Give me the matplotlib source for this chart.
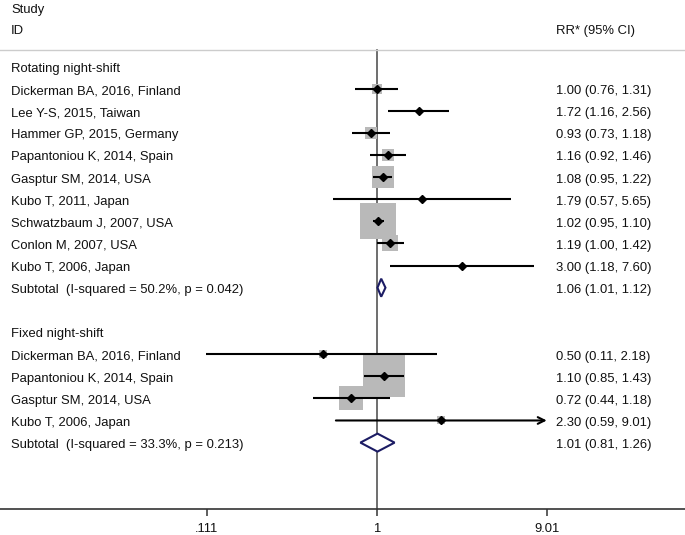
import numpy as np
import matplotlib
matplotlib.use('Agg')
import matplotlib.pyplot as plt
from matplotlib.patches import Polygon
from matplotlib.transforms import blended_transform_factory

plt.rcParams['font.family'] = ['Liberation Sans', 'DejaVu Sans']

# ==========================================
# data
# ==========================================
rot_studies = ['Dickerman BA, 2016, Finland', 'Lee Y-S, 2015, Taiwan', 'Hammer GP, 2015, Germany',
               'Papantoniou K, 2014, Spain', 'Gasptur SM, 2014, USA', 'Kubo T, 2011, Japan',
               'Schwatzbaum J, 2007, USA', 'Conlon M, 2007, USA', 'Kubo T, 2006, Japan']
rot_rr = [1.00, 1.72, 0.93, 1.16, 1.08, 1.79, 1.02, 1.19, 3.00]
rot_lo = [0.76, 1.16, 0.73, 0.92, 0.95, 0.57, 0.95, 1.00, 1.18]
rot_hi = [1.31, 2.56, 1.18, 1.46, 1.22, 5.65, 1.10, 1.42, 7.60]
rot_weight = [2.0, 0.33, 3.2, 3.3, 10.1, 0.25, 27.9, 5.2, 0.25]
rot_sub = (1.06, 1.01, 1.12)
rot_i2, rot_p = 50.2, 0.042

fix_studies = ['Dickerman BA, 2016, Finland', 'Papantoniou K, 2014, Spain',
               'Gasptur SM, 2014, USA', 'Kubo T, 2006, Japan']
fix_rr = [0.50, 1.10, 0.72, 2.30]
fix_lo = [0.11, 0.85, 0.44, 0.59]
fix_hi = [2.18, 1.43, 1.18, 9.01]
fix_weight = [1.3, 36.0, 11.1, 1.3]
fix_sub = (1.01, 0.81, 1.26)
fix_i2, fix_p = 33.3, 0.213

groups = [('Rotating night-shift', rot_studies, rot_rr, rot_lo, rot_hi, rot_weight, rot_sub, rot_i2, rot_p),
          ('Fixed night-shift', fix_studies, fix_rr, fix_lo, fix_hi, fix_weight, fix_sub, fix_i2, fix_p)]

tick_vals = [1 / 9.01, 1, 9.01]
tick_labels = ['.111', '1', '9.01']

# ==========================================
# layout
# ==========================================
W, H = 685, 535
axis_px = 509          # y of the x axis line (px from top)
null_px = 376.7        # x of RR = 1
px_per_dec = 178.1
forest_max = 9.01
fs = 9.4
txt_col = '#111111'

fig = plt.figure(figsize=(W / 100, H / 100), dpi=100)
ax = fig.add_axes([0, (H - axis_px) / H, 1, axis_px / H])
ax.set_xscale('log')
ax.set_xlim(10 ** (-null_px / px_per_dec), 10 ** ((W - null_px) / px_per_dec))
ax.set_ylim(20, -3)

for s in ['top', 'right', 'left']:
    ax.spines[s].set_visible(False)
ax.spines['bottom'].set_color('#333333')
ax.spines['bottom'].set_linewidth(1.2)
ax.set_yticks([])
ax.set_xticks(tick_vals)
ax.set_xticklabels(tick_labels, fontsize=fs, color=txt_col)
ax.xaxis.set_minor_locator(matplotlib.ticker.NullLocator())
ax.tick_params(axis='x', direction='out', length=5, width=1.1, color='#333333', pad=5)

tr = blended_transform_factory(ax.transAxes, ax.transData)
x_lab = 11 / W
x_rr = 556 / W
row_h_px = axis_px / 23.0
dy = 2.5 / row_h_px   # text sits a touch lower than the marks
k_side = 7.0  # box side in px per sqrt(weight)


def label(x, y, s):
    ax.text(x, y + dy, s, transform=tr, fontsize=fs, va='center', color=txt_col)


# headers
label(x_lab, -2.67, 'Study')
label(x_lab, -1.69, 'ID')
label(x_rr, -1.69, 'RR* (95% CI)')
ax.plot([0, 1], [-0.74, -0.74], transform=tr, color='#cccccc', lw=1.0, clip_on=False)

# null line (boxes are drawn over it)
ax.plot([1, 1], [-0.74, 20], color='#555555', lw=1.2, zorder=1)

row = 0
for name, studies, rr, lo, hi, wt, sub, i2, p in groups:
    label(x_lab, row, name)
    row += 1
    for j in range(len(studies)):
        label(x_lab, row, studies[j])
        label(x_rr, row, f"{rr[j]:.2f} ({lo[j]:.2f}, {hi[j]:.2f})")
        side_pt = k_side * np.sqrt(wt[j]) * 0.72
        ax.scatter([rr[j]], [row], marker='s', s=side_pt ** 2, color='#b9b9b9',
                   linewidths=0, zorder=2)
        if hi[j] >= forest_max:
            ax.annotate('', xy=(forest_max, row), xytext=(lo[j], row),
                        arrowprops=dict(arrowstyle='->', color='black', lw=1.5,
                                        shrinkA=0, shrinkB=0, mutation_scale=12), zorder=4)
        else:
            ax.plot([lo[j], hi[j]], [row, row], color='black', lw=1.5, zorder=4,
                    solid_capstyle='butt')
        ax.plot([rr[j]], [row], marker='D', ms=4.4, color='black', zorder=5)
        row += 1
    est, slo, shi = sub
    label(x_lab, row, f"Subtotal  (I-squared = {i2:.1f}%, p = {p:.3f})")
    label(x_rr, row, f"{est:.2f} ({slo:.2f}, {shi:.2f})")
    hh = 9 / row_h_px
    diamond = Polygon([(slo, row), (est, row - hh), (shi, row), (est, row + hh)], closed=True,
                      facecolor='white', edgecolor='#1c1c64', lw=1.5, zorder=6)
    ax.add_patch(diamond)
    row += 2

fig.savefig('out.png', dpi=100, facecolor='white')
